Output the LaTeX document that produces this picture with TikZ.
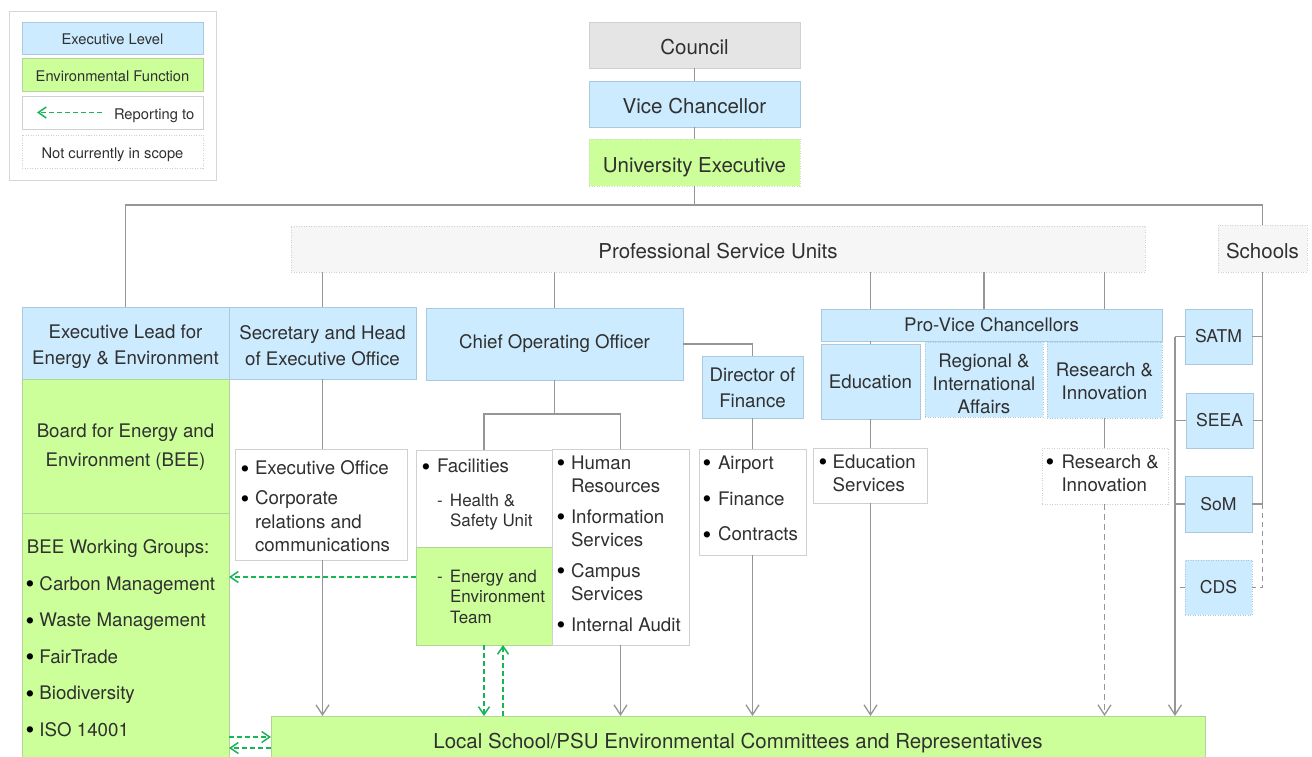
\documentclass[tikz,border=0pt]{standalone}
\usepackage{fontspec}
\setmainfont{TeX Gyre Heros}
\usetikzlibrary{arrows.meta}
\definecolor{bluef}{RGB}{204,235,255}
\definecolor{blueb}{RGB}{170,200,222}
\definecolor{greenf}{RGB}{204,255,153}
\definecolor{greenb}{RGB}{178,212,148}
\definecolor{grayf}{RGB}{229,229,229}
\definecolor{grayb}{RGB}{208,208,208}
\definecolor{psuf}{RGB}{246,246,246}
\definecolor{lineg}{RGB}{150,150,150}
\definecolor{repg}{RGB}{25,180,85}
\definecolor{txt}{RGB}{48,48,48}
\newcommand\mybox[7]{%
  \pgfmathsetmacro\bxcx{(#3+#5)/2}\pgfmathsetmacro\bxcy{(#4+#6)/2}%
  \pgfmathsetmacro\bxw{#5-#3}\pgfmathsetmacro\bxh{#6-#4}%
  \node[#2, minimum width=\bxw pt, minimum height=\bxh pt] (#1) at (\bxcx,\bxcy) {#7};}
\newcommand\bxhs{\rule{0pt}{1.18em}}
\newcommand\bxds{\rule[-0.25em]{0pt}{0.25em}}
\newcommand\bulit[2][12.5pt]{\makebox[#1][l]{\hspace*{-1.5pt}\color{black}\raisebox{-2.3pt}{\fontsize{25}{0}\selectfont\textbullet}}#2}
\newcommand\contind[1][12.5pt]{\hspace*{#1}}
\tikzset{
  base/.style={rectangle, inner sep=0pt, outer sep=0pt, text=txt, align=center, line width=0.8pt},
  st/.style={execute at begin node=\bxhs, execute at end node=\bxds},
  bbox/.style={base, fill=bluef, draw=blueb},
  gbox/.style={base, fill=greenf, draw=greenb},
  cbox/.style={base, fill=grayf, draw=grayb},
  wbox/.style={base, fill=white, draw=grayb},
  dotb/.style={dash pattern=on 1pt off 1.5pt},
  psubox/.style={base, fill=psuf, draw=grayb, dotb},
  fbig/.style={font=\fontsize{20.5}{24.5}\selectfont, st},
  fmed/.style={font=\fontsize{18.7}{#1}\selectfont},
  fmed/.default=23.5,
  fsch/.style={font=\fontsize{17.6}{21}\selectfont},
  fsml/.style={font=\fontsize{17}{20.5}\selectfont},
  fleg/.style={font=\fontsize{14.7}{17}\selectfont, st},
  txtl/.style={inner sep=0pt, outer sep=0pt, text=txt, align=left, anchor=west},
  ctext/.style={inner sep=0pt, outer sep=0pt, text=txt, align=center},
  conn/.style={draw=lineg, line width=1.3pt},
  dconn/.style={conn, dash pattern=on 5pt off 4pt},
  arr/.style={conn, -{Straight Barb[length=10pt,width=13pt]}},
  darr/.style={arr, dash pattern=on 6pt off 4pt},
  rep/.style={draw=repg, line width=1.5pt, dash pattern=on 5pt off 3pt, -{Straight Barb[length=8pt,width=11pt]}},
}
\begin{document}
\begin{tikzpicture}[x=1pt,y=-1pt]
\fill[white] (0,0) rectangle (1312,757);
\useasboundingbox (0,0) rectangle (1312,757);

% legend
\mybox{legout}{wbox, draw=grayb!85}{9}{11}{216}{180}{}
\mybox{legexec}{bbox, fleg}{22}{22}{203}{54}{Executive Level}
\mybox{legenv}{gbox, fleg}{22}{58}{203}{91}{Environmental Function}
\mybox{legrep}{wbox}{22}{96}{203}{129}{}
\mybox{legscope}{wbox, dotb, fleg}{22}{135}{203}{168}{Not currently in scope}
\node[txtl, fleg, st] (legreptxt) at (114,112.5) {Reporting to};
\coordinate (lra) at (102,112.5);
\coordinate (lrb) at (37,112.5);
\draw[rep] (lra) -- (lrb);

% top
\mybox{council}{cbox, fbig}{589}{22}{800}{68}{Council}
\mybox{vc}{bbox, fbig}{589}{81}{800}{127}{Vice Chancellor}
\mybox{ue}{gbox, draw=greenb!70, dotb, fbig}{589}{139}{800}{186}{University Executive}
\mybox{psu}{psubox, fbig}{291}{226}{1145}{272}{Professional Service Units}
\mybox{schools}{psubox, fbig}{1218}{225}{1307}{272}{Schools}

% executive row
\mybox{exlead}{bbox}{22}{307}{229}{379}{}
\node[ctext, fmed=26] (exleadt) at ([yshift=-4pt]exlead.center) {Executive Lead for\\Energy \& Environment};
\mybox{sec}{bbox}{229}{307}{416}{379}{}
\node[ctext, fmed=26] (sect) at ([yshift=-2.5pt]sec.center) {Secretary and Head\\of Executive Office};
\mybox{coo}{bbox, fmed}{426}{308}{683}{380}{Chief Operating Officer}
\mybox{dof}{bbox}{702}{356}{803}{418}{}
\node[ctext, fmed=25.5] (doft) at ([yshift=-1pt]dof.center) {Director of\\Finance};
\mybox{pvc}{bbox, fmed}{821}{309}{1162}{341}{Pro-Vice Chancellors}
\mybox{edu}{bbox, fmed}{821}{344}{920}{419}{Education}
\mybox{reg}{bbox, dotb}{925}{342}{1043}{417}{}
\node[ctext, fmed=23] (regt) at ([yshift=-4pt]reg.center) {Regional \&\\International\\Affairs};
\mybox{ri}{bbox, dotb}{1047}{342}{1162}{418}{}
\node[ctext, fmed=23] (rit) at ([yshift=-1pt]ri.center) {Research \&\\Innovation};
\mybox{satm}{bbox, fsch}{1185}{309}{1252}{364}{SATM}
\mybox{seea}{bbox, fsch}{1186}{393}{1253}{448}{SEEA}
\mybox{som}{bbox, fsch}{1185}{476}{1252}{532}{SoM}
\mybox{cds}{bbox, dotb, fsch}{1185}{560}{1252}{615}{CDS}

% BEE column
\mybox{bee}{gbox}{22}{379}{229}{513}{}
\node[ctext, fmed=28.5] (beet) at ([yshift=-1pt]bee.center) {Board for Energy and\\Environment (BEE)};
\mybox{beewg}{gbox}{22}{513}{229}{762}{}
\node[txtl, fmed=36.5] (beewgt) at (27,637.8) {\strut BEE Working Groups:\\\bulit[12.5pt]{Carbon Management}\\\bulit[12.5pt]{Waste Management}\\\bulit[12.5pt]{FairTrade}\\\bulit[12.5pt]{Biodiversity}\\\bulit[12.5pt]{ISO 14001}\strut};

% bullet boxes
\mybox{secb}{wbox}{235}{449}{407}{560}{}
\node[txtl, fmed] (secbt) at (242,508.5) {\strut\bulit[13pt]{Executive Office}\\[6.5pt]\bulit[13pt]{Corporate}\\\contind[13pt]relations and\\\contind[13pt]communications\strut};

\mybox{fac}{wbox}{416}{450}{552}{547}{}
\node[txtl, fmed] (fact) at (423,468) {\strut\bulit[14pt]{Facilities}\strut};
\node[txtl, fsml] (hsut) at (437,512.5) {\strut\makebox[13pt][l]{-}Health \&\\\contind[13pt]Safety Unit\strut};
\mybox{eet}{gbox}{416}{547}{552}{645}{}
\node[txtl, fsml] (eett) at (437,598.5) {\strut\makebox[13pt][l]{-}Energy and\\\contind[13pt]Environment\\\contind[13pt]Team\strut};

\mybox{hr}{wbox}{552}{449}{689}{645}{}
\node[txtl, fmed=23] (hrt) at (558,545.6) {\strut\bulit[13pt]{Human}\\\contind[13pt]Resources\\[8pt]\bulit[13pt]{Information}\\\contind[13pt]Services\\[8pt]\bulit[13pt]{Campus}\\\contind[13pt]Services\\[8pt]\bulit[13pt]{Internal Audit}\strut};

\mybox{fin}{wbox}{699}{449}{806}{555}{}
\node[txtl, fmed] (fint) at (704,500.3) {\strut\bulit[14pt]{Airport}\\[12.2pt]\bulit[14pt]{Finance}\\[12.2pt]\bulit[14pt]{Contracts}\strut};

\mybox{edus}{wbox}{813}{448}{927}{503}{}
\node[txtl, fmed=23] (edust) at (820,474.9) {\strut\bulit[12.7pt]{Education}\\\contind[12.7pt]Services\strut};

\mybox{rib}{wbox, dotb}{1042}{448}{1168}{504}{}
\node[txtl, fmed=23] (ribt) at (1047,474.9) {\strut\bulit[14.5pt]{Research \&}\\\contind[14.5pt]Innovation\strut};

\mybox{local}{gbox, fbig}{271}{716}{1205}{761}{Local School/PSU Environmental Committees and Representatives}

% connectors
\coordinate (hy) at (0,205);
\draw[conn] (council) -- (vc);
\draw[conn] (vc) -- (ue);
\draw[conn] (ue.south) -- (ue.south |- hy);
\draw[conn] (exlead.north) -- (exlead.north |- hy) -- (schools.north |- hy) -- (schools.north);
\draw[conn] (sec.north |- psu.south) -- (sec.north);
\draw[conn] (coo.north |- psu.south) -- (coo.north);
\foreach \n in {edu,reg,ri} \draw[conn] (\n.north |- psu.south) -- (\n.north |- pvc.north);
\draw[conn] (pvc.south -| edu.north) -- (edu.north);
\draw[conn] (coo.east) -- (coo.east -| dof.north) -- (dof.north);
\coordinate (cj) at (0,414);
\draw[conn] (coo.south) -- (coo.south |- cj);
\draw[conn] (fac.north) -- (fac.north |- cj) -- (hr.north |- cj) -- (hr.north);
\draw[conn] (sec.south) -- (sec.south |- secb.north);
\draw[arr] (sec.south |- secb.south) -- (sec.south |- local.north);
\draw[arr] (hr.south) -- (hr.south |- local.north);
\draw[conn] (dof.south) -- (dof.south |- fin.north);
\draw[arr] (dof.south |- fin.south) -- (dof.south |- local.north);
\draw[conn] (edu.south) -- (edu.south |- edus.north);
\draw[arr] (edu.south |- edus.south) -- (edu.south |- local.north);
\draw[conn] (ri.south) -- (ri.south |- rib.north);
\draw[darr] (ri.south |- rib.south) -- (ri.south |- local.north);

% schools
\coordinate (sl) at (1175,0);
\draw[conn] (satm.west) -- (satm.west -| sl);
\draw[conn] (seea.west) -- (seea.west -| sl);
\draw[conn] (som.west) -- (som.west -| sl);
\draw[arr] (satm.west -| sl) -- (local.north -| sl);
\draw[conn] (schools.south) -- (schools.south |- som.east);
\draw[conn] (satm.east) -- (satm.east -| schools.south);
\draw[conn] (seea.east) -- (seea.east -| schools.south);
\draw[conn] (som.east) -- (som.east -| schools.south);
\draw[dconn] (schools.south |- som.east) -- (schools.south |- cds.east) -- (cds.east);
\coordinate (cdsl) at (1179,587.5);
\draw[dconn] (cds.west) -- (cdsl);

% reporting (green)
\coordinate (g1) at (0,577);
\coordinate (g2) at (0,737);
\coordinate (g3) at (0,748);
\coordinate (eup) at ([xshift=19pt]eet.south);
\draw[rep] (eet.west |- g1) -- (beewg.east |- g1);
\draw[rep] (eet.south) -- (eet.south |- local.north);
\draw[rep] (eup |- local.north) -- (eup);
\draw[rep] (beewg.east |- g2) -- (local.west |- g2);
\draw[rep] (local.west |- g3) -- (beewg.east |- g3);
\end{tikzpicture}
\end{document}
